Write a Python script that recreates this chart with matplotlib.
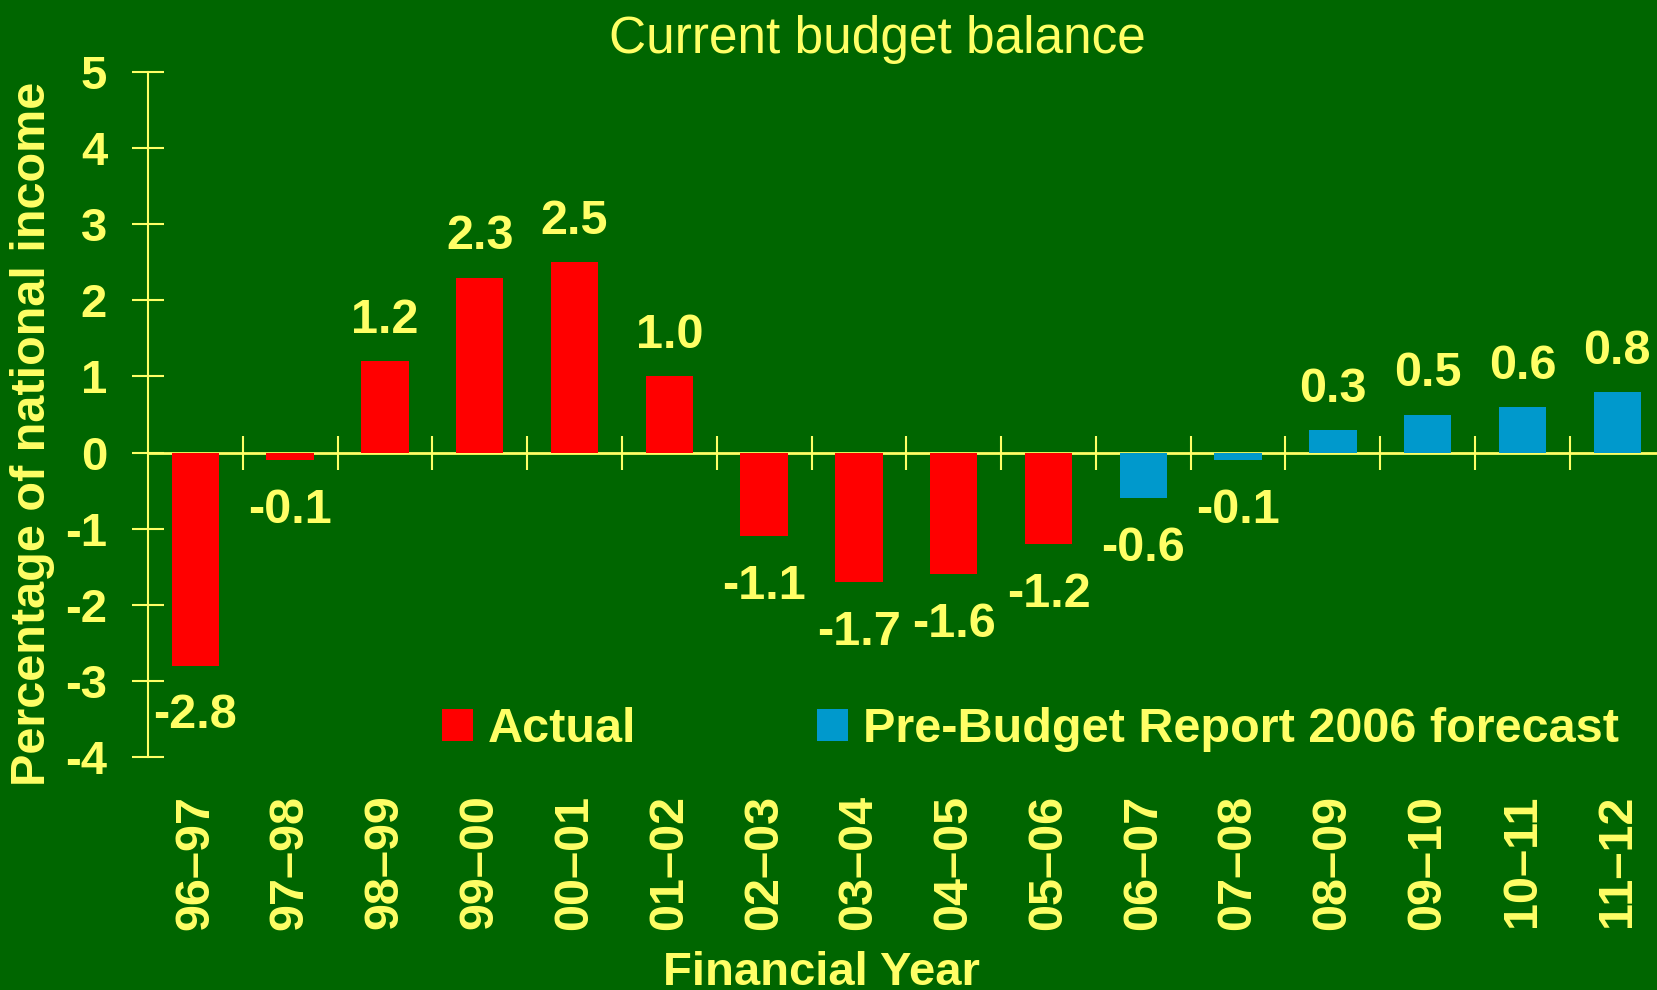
import matplotlib
matplotlib.use("Agg")
import matplotlib.pyplot as plt
import numpy as np

years = ["96–97", "97–98", "98–99", "99–00", "00–01", "01–02", "02–03", "03–04",
         "04–05", "05–06", "06–07", "07–08", "08–09", "09–10", "10–11", "11–12"]
balance = [-2.8, -0.1, 1.2, 2.3, 2.5, 1.0, -1.1, -1.7, -1.6, -1.2,
           -0.6, -0.1, 0.3, 0.5, 0.6, 0.8]
n_actual = 10
yticks = [-4, -3, -2, -1, 0, 1, 2, 3, 4, 5]

bg = "#006600"
yel = "#FFFF66"
red = "#FF0000"
blue = "#0099CC"

plt.rcParams['font.family'] = ['Liberation Sans', 'DejaVu Sans']
plt.rcParams['axes.unicode_minus'] = False

fig = plt.figure(figsize=(16.58, 9.9), dpi=100, facecolor=bg)
ax = fig.add_axes([148/1658, 233/990, 1 - 148/1658, (757 - 72)/990])
ax.set_facecolor(bg)

x = np.arange(len(years))
ax.bar(x[:n_actual], balance[:n_actual], width=0.5, color=red, label="Actual")
ax.bar(x[n_actual:], balance[n_actual:], width=0.5, color=blue,
       label="Pre-Budget Report 2006 forecast")

for xi, v in zip(x, balance):
    if v >= 0:
        ax.annotate(f"{v:.1f}", (xi, v), xytext=(0, 13), textcoords="offset points",
                    ha="center", va="bottom", color=yel, fontsize=35, fontweight="bold")
    else:
        ax.annotate(f"{v:.1f}", (xi, v), xytext=(0, -20), textcoords="offset points",
                    ha="center", va="top", color=yel, fontsize=35, fontweight="bold")

ax.set_xlim(-0.5, 15.43)
ax.set_ylim(-4, 5)
ax.set_yticks(yticks)
ax.set_xticks(x)
ax.set_xticklabels(years, rotation=90)
ax.tick_params(axis="x", length=0, pad=27, labelsize=35, labelcolor=yel)
ax.tick_params(axis="y", direction="inout", length=23, width=1.5, color=yel,
               pad=18, labelsize=34, labelcolor=yel)
for lab in ax.get_xticklabels() + ax.get_yticklabels():
    lab.set_fontweight("bold")

for s in ["top", "right", "bottom"]:
    ax.spines[s].set_visible(False)
ax.spines["left"].set_color(yel)
ax.spines["left"].set_linewidth(1.5)

# zero line with ticks between categories
zero = ax.secondary_xaxis(4/9)
zero.spines["bottom"].set_color(yel)
zero.spines["bottom"].set_linewidth(2)
zero.set_xticks(np.arange(0.5, 15, 1))
zero.set_xticklabels([])
zero.tick_params(axis="x", direction="inout", length=24, width=1.5, color=yel)

leg = ax.legend(loc="center left", bbox_to_anchor=(442/1658, 260/990),
                bbox_transform=fig.transFigure, ncol=2, frameon=False,
                prop={"size": 35, "weight": "bold"}, handlelength=0.64,
                handleheight=0.64, handletextpad=0.31, columnspacing=3.7,
                borderpad=0, borderaxespad=0)
for t in leg.get_texts():
    t.set_color(yel)

fig.text(877/1658, 1 - 53/990, "Current budget balance", ha="center",
         va="baseline", color=yel, fontsize=37)
fig.text(821/1658, 5/990, "Financial Year", ha="center", va="baseline",
         color=yel, fontsize=34, fontweight="bold")
fig.text(33/1658, 0.562, "Percentage of national income", rotation=90,
         ha="center", va="center", color=yel, fontsize=35, fontweight="bold")

fig.savefig("out.png", dpi=100, facecolor=bg)
